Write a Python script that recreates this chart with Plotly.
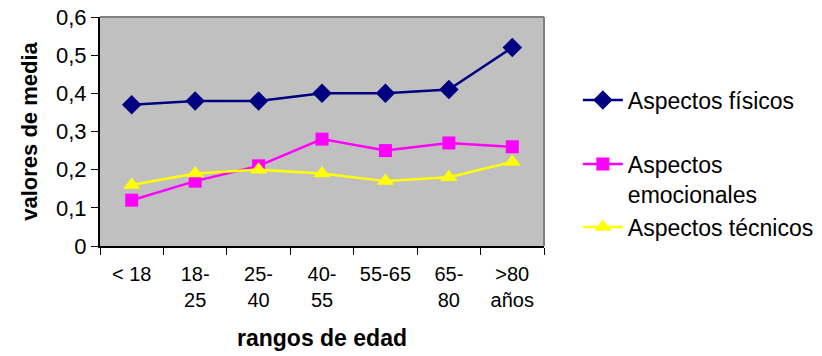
import plotly.graph_objects as go

categorias = ["< 18", "18-<br>25", "25-<br>40", "40-<br>55", "55-65", "65-<br>80", ">80<br>años"]
fisicos = [0.37, 0.38, 0.38, 0.40, 0.40, 0.41, 0.52]
emocionales = [0.12, 0.17, 0.21, 0.28, 0.25, 0.27, 0.26]
tecnicos = [0.16, 0.19, 0.20, 0.19, 0.17, 0.18, 0.22]
y_ticks = [0, 0.1, 0.2, 0.3, 0.4, 0.5, 0.6]
y_tick_text = ["0", "0,1", "0,2", "0,3", "0,4", "0,5", "0,6"]

FONT = "Liberation Sans, Arial, sans-serif"

fig = go.Figure()
fig.add_trace(go.Scatter(
    x=categorias, y=fisicos, name="Aspectos físicos", mode="lines+markers",
    line=dict(color="#000080", width=2.5),
    marker=dict(symbol="diamond", size=15, color="#000080"),
    legend="legend",
))
fig.add_trace(go.Scatter(
    x=categorias, y=emocionales, name="Aspectos<br>emocionales", mode="lines+markers",
    line=dict(color="#FF00FF", width=2.5),
    marker=dict(symbol="square", size=13, color="#FF00FF"),
    legend="legend2",
))
fig.add_trace(go.Scatter(
    x=categorias, y=tecnicos, name="Aspectos técnicos", mode="lines+markers",
    line=dict(color="#FFFF00", width=2.5),
    marker=dict(symbol="triangle-up", size=15, color="#FFFF00"),
    legend="legend3",
))

legend_common = dict(font=dict(family=FONT, size=23, color="black"),
                     bgcolor="rgba(0,0,0,0)", xanchor="left", yanchor="middle",
                     xref="container", yref="container",
                     itemwidth=40, valign="top")
fig.update_layout(
    width=822, height=356,
    margin=dict(l=100, r=278, t=17, b=110, autoexpand=False),
    paper_bgcolor="white",
    plot_bgcolor="#C0C0C0",
    font=dict(family=FONT, color="black"),
    showlegend=True,
    legend=dict(x=0.703, y=0.719, **legend_common),
    legend2=dict(x=0.703, y=0.497, **legend_common),
    legend3=dict(x=0.703, y=0.362, **legend_common),
    xaxis=dict(
        type="category", tickson="boundaries", ticks="outside", ticklen=7,
        tickcolor="black", showline=True, linecolor="black", linewidth=2,
        showgrid=False, tickfont=dict(size=20), range=[-0.5, 6.5],
        ticklabelstandoff=9, automargin=False,
        title=dict(text="<b>rangos de edad</b>", font=dict(size=23), standoff=20),
    ),
    yaxis=dict(
        range=[0, 0.6], tickvals=y_ticks, ticktext=y_tick_text,
        ticks="outside", ticklen=7, tickcolor="black", showline=True,
        linecolor="black", linewidth=2, showgrid=False, zeroline=False,
        tickfont=dict(size=22), automargin=False,
        title=dict(text="<b>valores de media</b>", font=dict(size=22), standoff=12),
    ),
    shapes=[
        dict(type="line", xref="paper", yref="paper", x0=0, x1=1, y0=1, y1=1,
             line=dict(color="#808080", width=2)),
        dict(type="line", xref="paper", yref="paper", x0=1, x1=1, y0=0, y1=1,
             line=dict(color="#808080", width=2)),
    ],
)

fig.write_html("out.html")
